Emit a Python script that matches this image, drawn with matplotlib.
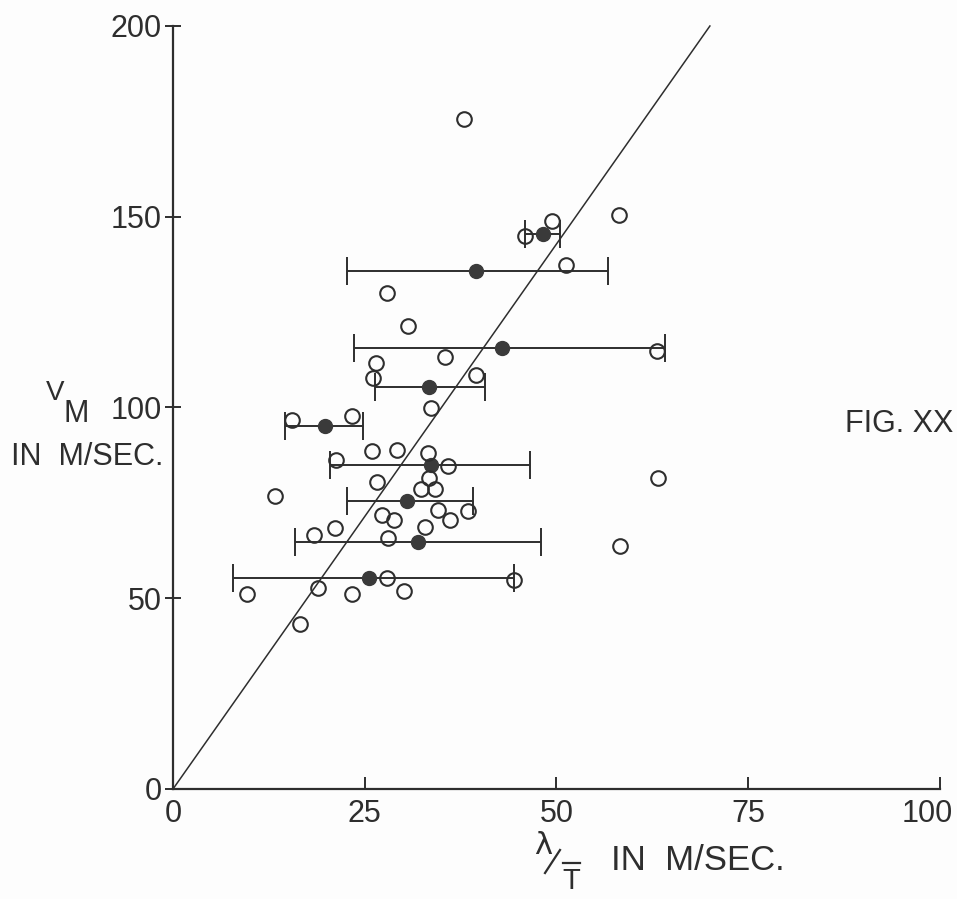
import matplotlib
matplotlib.use("Agg")
import matplotlib.pyplot as plt
from matplotlib.transforms import ScaledTranslation
import numpy as np

# individual measurements (open circles)
open_x = [38.0, 49.4, 58.2, 45.9, 51.2, 27.9, 30.6, 63.1, 35.5, 26.5, 26.1, 39.5,
          33.6, 15.5, 23.3, 25.9, 29.2, 33.2, 21.3, 35.9, 33.4, 26.6, 32.3, 34.1,
          13.3, 63.2, 34.6, 38.4, 27.3, 28.8, 36.1, 32.9, 21.1, 18.4, 28.0, 58.3,
          27.9, 44.5, 9.6, 18.9, 23.4, 30.1, 16.6]
open_y = [175.5, 149.0, 150.4, 144.9, 137.4, 130.0, 121.4, 114.8, 113.3, 111.6, 107.8, 108.4,
          99.9, 96.8, 97.9, 88.5, 88.8, 88.2, 86.3, 84.7, 81.5, 80.6, 78.6, 78.6,
          76.7, 81.5, 73.2, 72.9, 71.8, 70.5, 70.5, 68.8, 68.3, 66.6, 65.7, 63.7,
          55.2, 54.9, 51.1, 52.6, 51.1, 51.9, 43.2]

# group means (filled circles) with their lambda/T ranges
mean_x = [48.2, 39.5, 42.9, 33.4, 19.8, 33.6, 30.5, 31.9, 25.6]
mean_y = [145.5, 135.8, 115.5, 105.3, 95.1, 85.0, 75.6, 64.8, 55.2]
range_lo = [45.9, 22.7, 23.6, 26.3, 14.6, 20.5, 22.7, 15.9, 7.8]
range_hi = [50.4, 56.7, 64.1, 40.7, 24.8, 46.5, 39.1, 48.0, 44.5]

# reference line V_M = k * lambda/T
line_x = [0, 70]
line_slope = 200 / 70

x_ticks = [0, 25, 50, 75, 100]
y_ticks = [0, 50, 100, 150, 200]

ink = "#2e2e2e"
font = ["Liberation Sans", "DejaVu Sans"]

fig = plt.figure(figsize=(9.57, 8.99), dpi=100, facecolor="#fdfdfd")
ax = fig.add_axes([0.18077, 0.12236, 0.80146, 0.84872])
ax.set_facecolor("#fdfdfd")
ax.set_xlim(0, 100)
ax.set_ylim(0, 200)

ax.plot(line_x, [v * line_slope for v in line_x], color=ink, lw=1.1, clip_on=False)

mx = np.array(mean_x)
xerr = [mx - np.array(range_lo), np.array(range_hi) - mx]
ax.errorbar(mean_x, mean_y, xerr=xerr, fmt="o", color=ink, ms=10,
            mfc="#3a3a3a", mec="#3a3a3a", ecolor=ink, elinewidth=1.4,
            capsize=10, capthick=1.4, clip_on=False, zorder=3)

ax.plot(open_x, open_y, "o", ms=10.5, mfc="none", mec=ink, mew=1.5,
        clip_on=False, zorder=4)

for side in ("top", "right"):
    ax.spines[side].set_visible(False)
for side in ("left", "bottom"):
    ax.spines[side].set_color(ink)
    ax.spines[side].set_linewidth(1.6)

ax.set_xticks(x_ticks)
ax.set_yticks(y_ticks)
ax.tick_params(axis="x", direction="in", length=9, width=1.4, color=ink, pad=7)
ax.tick_params(axis="y", direction="inout", length=12, width=1.4, color=ink, pad=2)
for lab in ax.get_xticklabels() + ax.get_yticklabels():
    lab.set_family(font)
    lab.set_fontsize(22)
    lab.set_color(ink)
# last x label sits a little left of its tick
last = ax.get_xticklabels()[-1]
last.set_transform(last.get_transform() + ScaledTranslation(-13 / 100, 0, fig.dpi_scale_trans))

# y axis title
fig.text(55 / 957, 1 - 393 / 899, "V", family=font, fontsize=20, color=ink,
         ha="center", va="center")
fig.text(76 / 957, 1 - 414 / 899, "M", family=font, fontsize=22, color=ink,
         ha="center", va="center")
fig.text(87 / 957, 1 - 457 / 899, "IN  M/SEC.", family=font, fontsize=22, color=ink,
         ha="center", va="center")

# x axis title: lambda over T
fig.text(543 / 957, 1 - 845 / 899, "λ", family=["DejaVu Sans"], fontsize=22, color=ink,
         ha="center", va="center")
fig.add_artist(plt.Line2D([545 / 957, 560 / 957], [1 - 873 / 899, 1 - 850 / 899],
                          transform=fig.transFigure, color=ink, lw=1.6))
fig.add_artist(plt.Line2D([563 / 957, 580 / 957], [1 - 863 / 899, 1 - 863 / 899],
                          transform=fig.transFigure, color=ink, lw=1.6))
fig.text(571 / 957, 1 - 881 / 899, "T", family=font, fontsize=21, color=ink,
         ha="center", va="center")
fig.text(698 / 957, 1 - 860 / 899, "IN  M/SEC.", family=font, fontsize=25, color=ink,
         ha="center", va="center")

fig.text(899 / 957, 1 - 424 / 899, "FIG. XX", family=font, fontsize=22, color=ink,
         ha="center", va="center")

fig.savefig("out.png", dpi=100, facecolor=fig.get_facecolor())
